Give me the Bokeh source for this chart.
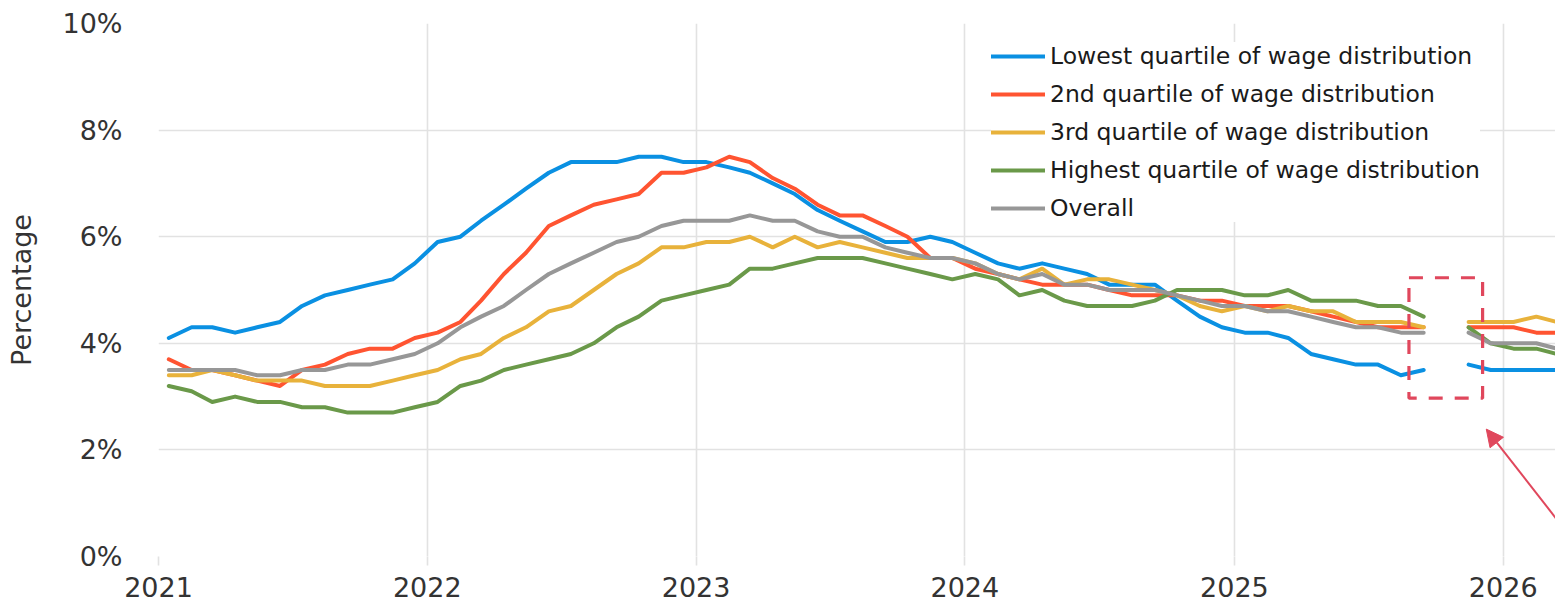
from datetime import datetime, timedelta
import numpy as np
import pandas as pd
from bokeh.plotting import figure
from bokeh.models import (Range1d, FixedTicker, CustomJSTickFormatter, PrintfTickFormatter,
                          BoxAnnotation, Arrow, NormalHead, ColumnDataSource, Legend, LegendItem)
from bokeh.embed import file_html
from bokeh.resources import INLINE

# ---------------- data (monthly, Jan 2021 - Mar 2026; Oct 2025 missing) -------------
months = pd.date_range("2021-01-01", "2026-03-01", freq="MS") + pd.Timedelta(days=14)

lowest = [4.1, 4.3, 4.3, 4.2, 4.3, 4.4, 4.7, 4.9, 5.0, 5.1, 5.2, 5.5,
          5.9, 6.0, 6.3, 6.6, 6.9, 7.2, 7.4, 7.4, 7.4, 7.5, 7.5, 7.4,
          7.4, 7.3, 7.2, 7.0, 6.8, 6.5, 6.3, 6.1, 5.9, 5.9, 6.0, 5.9,
          5.7, 5.5, 5.4, 5.5, 5.4, 5.3, 5.1, 5.1, 5.1, 4.8, 4.5, 4.3,
          4.2, 4.2, 4.1, 3.8, 3.7, 3.6, 3.6, 3.4, 3.5, None, 3.6, 3.5,
          3.5, 3.5, 3.5]
second = [3.7, 3.5, 3.5, 3.4, 3.3, 3.2, 3.5, 3.6, 3.8, 3.9, 3.9, 4.1,
          4.2, 4.4, 4.8, 5.3, 5.7, 6.2, 6.4, 6.6, 6.7, 6.8, 7.2, 7.2,
          7.3, 7.5, 7.4, 7.1, 6.9, 6.6, 6.4, 6.4, 6.2, 6.0, 5.6, 5.6,
          5.4, 5.3, 5.2, 5.1, 5.1, 5.1, 5.0, 4.9, 4.9, 4.9, 4.8, 4.8,
          4.7, 4.7, 4.7, 4.6, 4.5, 4.4, 4.3, 4.3, 4.3, None, 4.3, 4.3,
          4.3, 4.2, 4.2]
third = [3.4, 3.4, 3.5, 3.4, 3.3, 3.3, 3.3, 3.2, 3.2, 3.2, 3.3, 3.4,
         3.5, 3.7, 3.8, 4.1, 4.3, 4.6, 4.7, 5.0, 5.3, 5.5, 5.8, 5.8,
         5.9, 5.9, 6.0, 5.8, 6.0, 5.8, 5.9, 5.8, 5.7, 5.6, 5.6, 5.6,
         5.5, 5.3, 5.2, 5.4, 5.1, 5.2, 5.2, 5.1, 5.0, 4.9, 4.7, 4.6,
         4.7, 4.6, 4.7, 4.6, 4.6, 4.4, 4.4, 4.4, 4.3, None, 4.4, 4.4,
         4.4, 4.5, 4.4]
highest = [3.2, 3.1, 2.9, 3.0, 2.9, 2.9, 2.8, 2.8, 2.7, 2.7, 2.7, 2.8,
           2.9, 3.2, 3.3, 3.5, 3.6, 3.7, 3.8, 4.0, 4.3, 4.5, 4.8, 4.9,
           5.0, 5.1, 5.4, 5.4, 5.5, 5.6, 5.6, 5.6, 5.5, 5.4, 5.3, 5.2,
           5.3, 5.2, 4.9, 5.0, 4.8, 4.7, 4.7, 4.7, 4.8, 5.0, 5.0, 5.0,
           4.9, 4.9, 5.0, 4.8, 4.8, 4.8, 4.7, 4.7, 4.5, None, 4.3, 4.0,
           3.9, 3.9, 3.8]
overall = [3.5, 3.5, 3.5, 3.5, 3.4, 3.4, 3.5, 3.5, 3.6, 3.6, 3.7, 3.8,
           4.0, 4.3, 4.5, 4.7, 5.0, 5.3, 5.5, 5.7, 5.9, 6.0, 6.2, 6.3,
           6.3, 6.3, 6.4, 6.3, 6.3, 6.1, 6.0, 6.0, 5.8, 5.7, 5.6, 5.6,
           5.5, 5.3, 5.2, 5.3, 5.1, 5.1, 5.0, 5.0, 5.0, 4.9, 4.8, 4.7,
           4.7, 4.6, 4.6, 4.5, 4.4, 4.3, 4.3, 4.2, 4.2, None, 4.2, 4.0,
           4.0, 4.0, 3.9]

series_names = ["Lowest quartile of wage distribution",
                "2nd quartile of wage distribution",
                "3rd quartile of wage distribution",
                "Highest quartile of wage distribution",
                "Overall"]
series_values = [lowest, second, third, highest, overall]
series_colors = ["#0a90e2", "#ff5431", "#e8b23b", "#6a9949", "#979797"]

year_ticks = [2021, 2022, 2023, 2024, 2025, 2026]
y_ticks = [0, 2, 4, 6, 8, 10]
gap_month = datetime(2025, 10, 15)

# ---------------- figure -------------
FONT = "DejaVu Sans"
x_start = datetime(2021, 1, 1)
x_end = x_start + timedelta(days=1897)

p = figure(width=1555, height=608, x_axis_type="datetime",
           x_range=Range1d(x_start, x_end), y_range=Range1d(0, 10),
           output_backend="svg", toolbar_location=None,
           min_border_left=158, min_border_right=0, min_border_top=23, min_border_bottom=52)
p.outline_line_color = None
p.background_fill_color = "white"
p.border_fill_color = "white"

renderers = []
for name, vals, col in zip(series_names, series_values, series_colors):
    y = np.array([np.nan if v is None else v for v in vals], dtype=float)
    src = ColumnDataSource(dict(x=months, y=y))
    r = p.line("x", "y", source=src, line_color=col, line_width=4,
               line_join="round", line_cap="round")
    renderers.append((name, r))

tick_ms = [pd.Timestamp(f"{yv}-01-01").value / 1e6 for yv in year_ticks]
xt = FixedTicker(ticks=tick_ms)
p.xaxis.ticker = xt
p.xgrid.ticker = xt
p.xaxis.formatter = CustomJSTickFormatter(code="return String(new Date(tick).getUTCFullYear());")
p.yaxis.ticker = FixedTicker(ticks=y_ticks)
p.yaxis.formatter = PrintfTickFormatter(format="%d%%")

grid_col = "#e2e2e2"
for g in (p.xgrid, p.ygrid):
    g.grid_line_color = grid_col
    g.grid_line_width = 1.6

p.xaxis.axis_line_color = None
p.xaxis.major_tick_out = 9
p.xaxis.major_tick_in = 0
p.xaxis.major_tick_line_color = grid_col
p.xaxis.major_tick_line_width = 1.6
p.xaxis.minor_tick_line_color = None
p.xaxis.major_label_standoff = 11
p.yaxis.axis_line_color = None
p.yaxis.major_tick_line_color = None
p.yaxis.minor_tick_line_color = None
p.yaxis.major_label_standoff = 30
p.yaxis.axis_label = "Percentage"
p.yaxis.axis_label_standoff = 22
p.yaxis.axis_label_text_font_style = "normal"

for ax in (p.xaxis, p.yaxis):
    ax.major_label_text_font = FONT
    ax.major_label_text_font_size = "27px"
    ax.major_label_text_color = "#333333"
    ax.axis_label_text_font = FONT
    ax.axis_label_text_font_size = "27px"
    ax.axis_label_text_color = "#333333"

legend = Legend(items=[LegendItem(label=n, renderers=[r]) for n, r in renderers],
                location=(833, 334), orientation="vertical")
legend.label_text_font = FONT
legend.label_text_font_size = "23.5px"
legend.label_text_color = "#1a1a1a"
legend.glyph_width = 54
legend.glyph_height = 28
legend.label_height = 28
legend.label_standoff = 5
legend.spacing = 10
legend.padding = 8
legend.margin = 0
legend.border_line_color = None
legend.background_fill_color = "white"
legend.background_fill_alpha = 1.0
p.add_layout(legend)

# ---------------- annotation: missing month box and arrow -------------
mark_col = "#e0475c"
box = BoxAnnotation(left=gap_month - timedelta(days=50), right=gap_month + timedelta(days=50),
                    bottom=2.97, top=5.23, fill_alpha=0, line_color=mark_col, line_alpha=1.0,
                    line_width=3.2, line_dash="14 12")
p.add_layout(box)
arrow = Arrow(end=NormalHead(size=17, fill_color=mark_col, line_color=mark_col),
              x_start=gap_month + timedelta(days=210), y_start=-0.35,
              x_end=gap_month + timedelta(days=55), y_end=2.39,
              line_color=mark_col, line_width=2)
p.add_layout(arrow)

open("out.html", "w").write(file_html(p, INLINE))
